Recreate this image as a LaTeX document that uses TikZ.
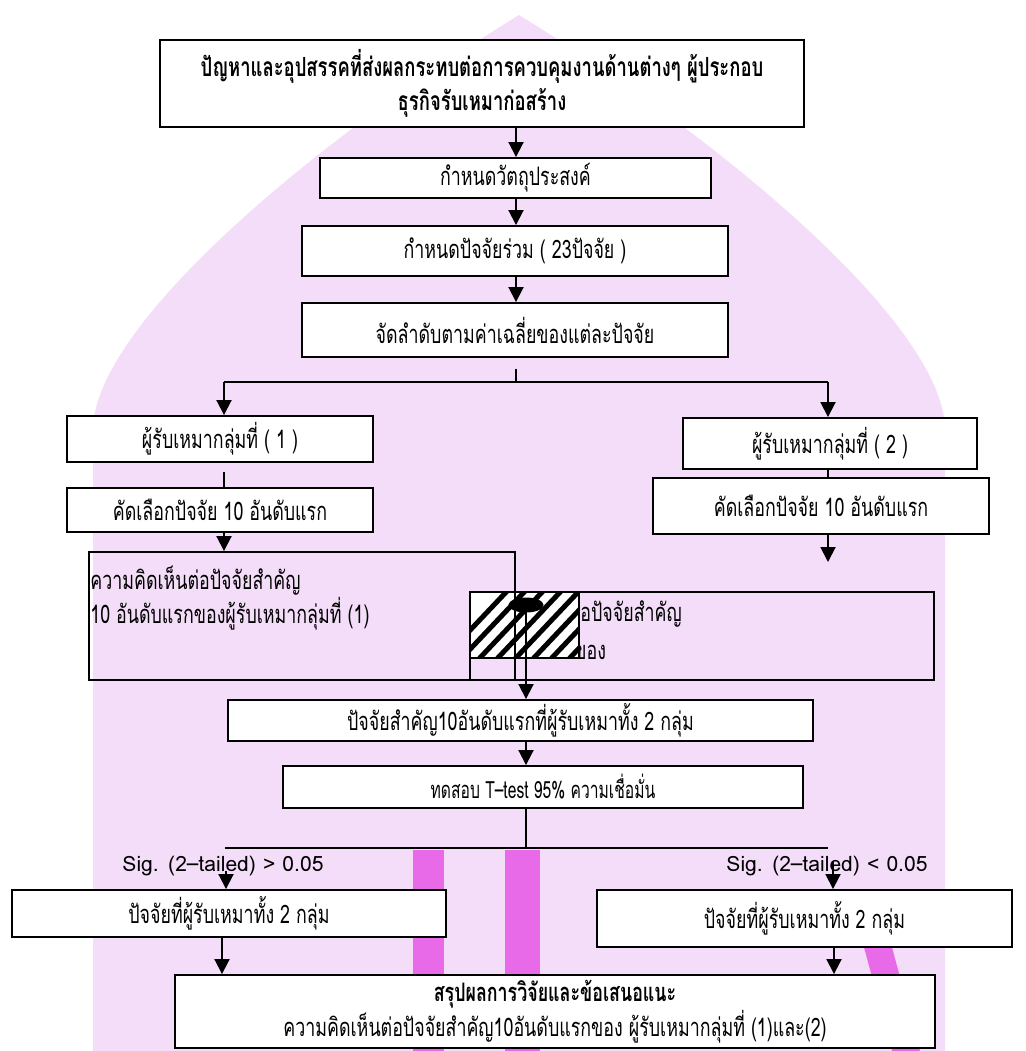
\documentclass[tikz,border=0pt]{standalone}
\usepackage{fontspec}
\setmainfont[Script=Thai,FakeStretch=0.7]{Loma}
\newfontfamily\plainthai[Script=Thai]{Loma}
\newfontfamily\narrowthai[Script=Thai,FakeStretch=0.66]{Loma}
\usetikzlibrary{arrows.meta,calc,shapes.geometric}
\definecolor{wmlav}{HTML}{F4DDF8}
\definecolor{wmmag}{HTML}{E86AE8}

\begin{document}
\begin{tikzpicture}[x=0.02cm,y=-0.02cm,
  box/.style={draw,line width=1.1pt,fill=white,align=center,inner sep=2pt,
    font=\fontsize{14.5}{17}\selectfont},
  frame/.style={draw,line width=1.1pt,inner sep=0pt},
  txt/.style={inner sep=0pt,align=left,font=\fontsize{14.5}{17.6}\selectfont},
  sig/.style={inner sep=0pt,font=\plainthai\fontsize{12}{14}\selectfont},
  ln/.style={line width=1.1pt},
  arr/.style={line width=1.1pt,-{Triangle[length=0.3cm,width=0.3cm]}}]
  \useasboundingbox (0,0) rectangle (1026,1051);
  % watermark
  \fill[wmlav] (93,1051) -- (93,430) .. controls (93,330) and (300,150) .. (519,15)
    .. controls (738,150) and (945,330) .. (945,430) -- (945,1051) -- cycle;
  \fill[wmmag] (413,850) rectangle (444,1051);
  \fill[wmmag] (505,850) rectangle (540,1051);
  \fill[wmmag] (862,940) -- (890,940) -- (920,1051) -- (892,1051) -- cycle;

  \coordinate (mc) at (516,0);
  \node[box,minimum width=12.88cm,minimum height=1.74cm,font=\bfseries\fontsize{15}{19.3}\selectfont] (prob) at (482,83.5)
    {ปัญหาและอุปสรรคที่ส่งผลกระทบต่อการควบคุมงานด้านต่างๆ ผู้ประกอบ\\ธุรกิจรับเหมาก่อสร้าง};
  \node[box,minimum width=7.82cm,minimum height=0.8cm] (obj) at (515.5,178) {กำหนดวัตถุประสงค์};
  \node[box,minimum width=8.52cm,minimum height=1cm] (fac) at (515,251) {กำหนดปัจจัยร่วม ( 23ปัจจัย )};
  \node[box,minimum width=8.52cm,minimum height=1.08cm] (rank) at (515,330) {จัดลำดับตามค่าเฉลี่ยของแต่ละปัจจัย};
  \draw[arr] (prob.south -| mc) -- (obj.north -| mc);
  \draw[arr] (obj.south -| mc) -- (fac.north -| mc);
  \draw[arr] (fac.south -| mc) -- (rank.north -| mc);

  % split to the two groups
  \coordinate (split) at (516,382);
  \coordinate (lsplit) at (224,382);
  \coordinate (rsplit) at (828,382);
  \draw[ln] ($(rank.south -| mc)+(0,11)$) -- (split);
  \draw[ln] (lsplit) -- (rsplit);

  \node[box,minimum width=6.12cm,minimum height=0.92cm] (g1) at (220,439) {ผู้รับเหมากลุ่มที่ ( 1 )};
  \node[box,minimum width=5.88cm,minimum height=1.02cm] (g2) at (830,443.5) {ผู้รับเหมากลุ่มที่ ( 2 )};
  \node[box,minimum width=6.12cm,minimum height=0.88cm] (s1) at (220,510) {คัดเลือกปัจจัย 10 อันดับแรก};
  \node[box,minimum width=6.72cm,minimum height=1.12cm] (s2) at (821,506) {คัดเลือกปัจจัย 10 อันดับแรก};
  \coordinate (s2end) at (828,562);
  \draw[arr] (lsplit) -- (g1.north -| lsplit);
  \draw[arr] (rsplit) -- (g2.north -| rsplit);
  \draw[ln] ($(g1.south -| lsplit)+(0,9)$) -- (s1.north -| lsplit);
  \draw[ln] (g2.south -| rsplit) -- (s2.north -| rsplit);
  \draw[arr] (s2.south -| rsplit) -- (s2end);

  % opinion boxes
  \node[txt,anchor=west] (o1t) at (90,598) {ความคิดเห็นต่อปัจจัยสำคัญ\\10 อันดับแรกของผู้รับเหมากลุ่มที่ (1)};
  \node[txt,anchor=west] (o2a) at (580,614) {อปัจจัยสำคัญ};
  \node[txt,anchor=west] (o2b) at (574,652) {ของ};
  \fill[white] (470,592) rectangle (579,658);
  \begin{scope}
    \clip (470,592) rectangle (579,658);
    \foreach \k in {0,...,10}
      \draw[line width=0.1cm] (440+18*\k,662) -- (510+18*\k,588);
  \end{scope}
  \draw[ln] (470,592) rectangle (579,658);
  \node[frame,minimum width=8.52cm,minimum height=2.56cm] (o1) at (302,616) {};
  \node[frame,minimum width=9.28cm,minimum height=1.76cm] (o2) at (702,636) {};
  \draw[arr] (s1.south -| lsplit) -- (o1.north -| lsplit);
  \node[ellipse,fill=black,inner sep=0pt,minimum width=0.7cm,minimum height=0.3cm] (blob) at (526,605) {};

  \node[box,minimum width=11.7cm,minimum height=0.82cm] (top10) at (520.5,720.5) {ปัจจัยสำคัญ10อันดับแรกที่ผู้รับเหมาทั้ง 2 กลุ่ม};
  \draw[arr] (blob.center) -- (top10.north -| blob);

  \node[box,minimum width=10.4cm,minimum height=0.84cm,font=\narrowthai\fontsize{13.5}{15}\selectfont] (ttest) at (543,787) {ทดสอบ T–test 95\% ความเชื่อมั่น};
  \coordinate (tsplit) at (526,848);
  \coordinate (tl) at (225,848);
  \coordinate (tr) at (828,848);
  \draw[arr] (top10.south -| tsplit) -- (ttest.north -| tsplit);
  \draw[ln] (ttest.south -| tsplit) -- (tsplit);
  \draw[ln] (tl) -- (tr);

  \node[sig] (sigl) at (223,866) {Sig. (2–tailed) > 0.05};
  \node[sig] (sigr) at (827,866) {Sig. (2–tailed) < 0.05};
  \coordinate (sigla) at (226,871);
  \coordinate (sigra) at (833,862);

  \node[box,minimum width=8.68cm,minimum height=0.94cm] (bl) at (229,913.5) {ปัจจัยที่ผู้รับเหมาทั้ง 2 กลุ่ม};
  \node[box,minimum width=8.3cm,minimum height=1.14cm] (br) at (804.5,918.5) {ปัจจัยที่ผู้รับเหมาทั้ง 2 กลุ่ม};
  \draw[arr] (sigla) -- (bl.north -| sigla);
  \draw[arr] (sigra) -- (br.north -| sigra);

  \node[box,minimum width=15.2cm,minimum height=1.46cm] (sum) at (555,1011.5)
    {\textbf{สรุปผลการวิจัยและข้อเสนอแนะ}\\ความคิดเห็นต่อปัจจัยสำคัญ10อันดับแรกของ ผู้รับเหมากลุ่มที่ (1)และ(2)};
  \coordinate (bla) at (222,0);
  \coordinate (bra) at (834,0);
  \draw[arr] (bl.south -| bla) -- (sum.north -| bla);
  \draw[arr] (br.south -| bra) -- (sum.north -| bra);
\end{tikzpicture}
\end{document}
